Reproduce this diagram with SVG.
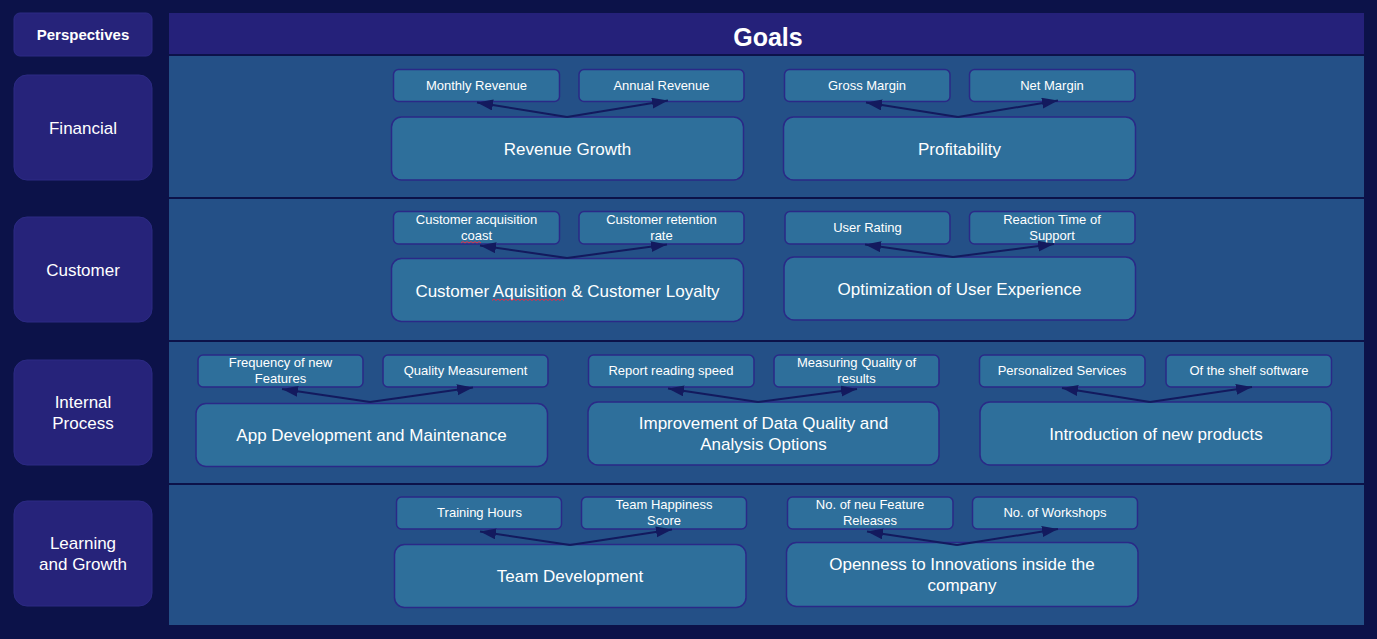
<svg xmlns="http://www.w3.org/2000/svg" width="1377" height="639" viewBox="0 0 1377 639">
  <defs>
    <marker id="head" markerUnits="userSpaceOnUse" markerWidth="18" markerHeight="12" refX="16" refY="5.5" orient="auto">
      <path d="M0,0 L16,5.5 L0,11 Z" fill="#131a5e"/>
    </marker>
    <style>
      .bg { fill: #0c1249; }
      .band { fill: #25217a; }
      .row { fill: #245087; }
      .persp { fill: #26237a; stroke: #2c2a84; stroke-width: 1; }
      .kpi { fill: #2e6f9b; stroke: #2a2987; stroke-width: 1.5; }
      .goal { fill: #2e6f9b; stroke: #2a2987; stroke-width: 1.5; }
      .link { fill: none; stroke: #131a5e; stroke-width: 2; marker-end: url(#head); }
      .spell { fill: none; stroke: #e0304a; stroke-width: 1; }
      text { font-family: "Liberation Sans", Arial, sans-serif; fill: #ffffff; text-anchor: middle; }
      .t-kpi { font-size: 13px; }
      .t-goal { font-size: 17px; }
      .t-persp { font-size: 17px; }
      .t-head { font-size: 15px; font-weight: bold; }
      .t-title { font-size: 25px; font-weight: bold; }
    </style>
  </defs>

  <!-- page background and table bands -->
  <rect class="bg" x="0" y="0" width="1377" height="639"/>
  <rect class="band" x="169" y="13" width="1195" height="41"/>
  <rect class="row" x="169" y="56" width="1195" height="141"/>
  <rect class="row" x="169" y="199" width="1195" height="141"/>
  <rect class="row" x="169" y="342" width="1195" height="141"/>
  <rect class="row" x="169" y="485" width="1195" height="140"/>
  <text class="t-title" x="768" y="46">Goals</text>

  <!-- perspective column -->
  <g id="perspectives">
    <rect class="persp" x="14" y="13" width="138" height="43" rx="6"/>
    <text class="t-head" x="83" y="40">Perspectives</text>
  </g>
  <g id="p-financial">
    <rect class="persp" x="14" y="75" width="138" height="105" rx="13"/>
    <text class="t-persp" x="83" y="134">Financial</text>
  </g>
  <g id="p-customer">
    <rect class="persp" x="14" y="217" width="138" height="105" rx="13"/>
    <text class="t-persp" x="83" y="276">Customer</text>
  </g>
  <g id="p-internal">
    <rect class="persp" x="14" y="360" width="138" height="105" rx="13"/>
    <text class="t-persp" x="83" y="408">Internal</text>
    <text class="t-persp" x="83" y="429">Process</text>
  </g>
  <g id="p-learning">
    <rect class="persp" x="14" y="501" width="138" height="105" rx="13"/>
    <text class="t-persp" x="83" y="549">Learning</text>
    <text class="t-persp" x="83" y="570">and Growth</text>
  </g>

  <!-- Financial -->
  <g id="monthly-revenue">
    <rect class="kpi" x="393.5" y="69.5" width="166" height="32" rx="5"/>
    <text class="t-kpi" x="476.5" y="90">Monthly Revenue</text>
  </g>
  <g id="annual-revenue">
    <rect class="kpi" x="579" y="69.5" width="165" height="32" rx="5"/>
    <text class="t-kpi" x="661.5" y="90">Annual Revenue</text>
  </g>
  <g id="revenue-growth">
    <rect class="goal" x="391.5" y="117" width="352" height="63" rx="10"/>
    <text class="t-goal" x="567.5" y="155">Revenue Growth</text>
  </g>
  <g id="gross-margin">
    <rect class="kpi" x="784.5" y="69.5" width="165.5" height="32" rx="5"/>
    <text class="t-kpi" x="867" y="90">Gross Margin</text>
  </g>
  <g id="net-margin">
    <rect class="kpi" x="969.5" y="69.5" width="165.5" height="32" rx="5"/>
    <text class="t-kpi" x="1052" y="90">Net Margin</text>
  </g>
  <g id="profitability">
    <rect class="goal" x="783.5" y="117" width="352" height="63" rx="10"/>
    <text class="t-goal" x="959.5" y="155">Profitability</text>
  </g>

  <!-- Customer -->
  <g id="acquisition-cost">
    <rect class="kpi" x="393.5" y="211.5" width="166" height="32.5" rx="5"/>
    <text class="t-kpi" x="476.5" y="224">Customer acquisition</text>
    <text class="t-kpi" x="476.5" y="240">coast</text>
    <path class="spell" d="M461,243 l2,-1.5 l2,1.5 l2,-1.5 l2,1.5 l2,-1.5 l2,1.5 l2,-1.5 l2,1.5 l2,-1.5 l2,1.5"/>
  </g>
  <g id="retention-rate">
    <rect class="kpi" x="579" y="211.5" width="165" height="32.5" rx="5"/>
    <text class="t-kpi" x="661.5" y="224">Customer retention</text>
    <text class="t-kpi" x="661.5" y="240">rate</text>
  </g>
  <g id="acquisition-loyalty">
    <rect class="goal" x="391.5" y="258.5" width="352" height="63" rx="10"/>
    <text class="t-goal" x="567.5" y="297">Customer Aquisition &amp; Customer Loyalty</text>
    <path class="spell" d="M492,300.5 l2,-1.5 l2,1.5 l2,-1.5 l2,1.5 l2,-1.5 l2,1.5 l2,-1.5 l2,1.5 l2,-1.5 l2,1.5 l2,-1.5 l2,1.5 l2,-1.5 l2,1.5 l2,-1.5 l2,1.5 l2,-1.5 l2,1.5 l2,-1.5 l2,1.5 l2,-1.5 l2,1.5 l2,-1.5 l2,1.5 l2,-1.5 l2,1.5 l2,-1.5 l2,1.5 l2,-1.5 l2,1.5 l2,-1.5 l2,1.5 l2,-1.5 l2,1.5 l2,-1.5 l2,1.5"/>
  </g>
  <g id="user-rating">
    <rect class="kpi" x="785" y="211.5" width="165" height="32.5" rx="5"/>
    <text class="t-kpi" x="867.5" y="232">User Rating</text>
  </g>
  <g id="reaction-time">
    <rect class="kpi" x="969.5" y="211.5" width="165.5" height="32.5" rx="5"/>
    <text class="t-kpi" x="1052" y="224">Reaction Time of</text>
    <text class="t-kpi" x="1052" y="240">Support</text>
  </g>
  <g id="user-experience">
    <rect class="goal" x="784" y="257" width="351.5" height="63" rx="10"/>
    <text class="t-goal" x="959.5" y="295">Optimization of User Experience</text>
  </g>

  <!-- Internal Process -->
  <g id="feature-frequency">
    <rect class="kpi" x="198" y="355" width="165" height="32" rx="5"/>
    <text class="t-kpi" x="280.5" y="367">Frequency of new</text>
    <text class="t-kpi" x="280.5" y="383">Features</text>
  </g>
  <g id="quality-measurement">
    <rect class="kpi" x="383" y="355" width="165" height="32" rx="5"/>
    <text class="t-kpi" x="465.5" y="375">Quality Measurement</text>
  </g>
  <g id="app-development">
    <rect class="goal" x="196" y="403.5" width="351.5" height="63" rx="10"/>
    <text class="t-goal" x="371.5" y="441">App Development and Maintenance</text>
  </g>
  <g id="report-speed">
    <rect class="kpi" x="588.5" y="355" width="165.5" height="32" rx="5"/>
    <text class="t-kpi" x="671" y="375">Report reading speed</text>
  </g>
  <g id="result-quality">
    <rect class="kpi" x="774" y="355" width="165" height="32" rx="5"/>
    <text class="t-kpi" x="856.5" y="367">Measuring Quality of</text>
    <text class="t-kpi" x="856.5" y="383">results</text>
  </g>
  <g id="data-quality">
    <rect class="goal" x="588" y="402" width="351" height="63" rx="10"/>
    <text class="t-goal" x="763.5" y="429">Improvement of Data Quality and</text>
    <text class="t-goal" x="763.5" y="450">Analysis Options</text>
  </g>
  <g id="personalized-services">
    <rect class="kpi" x="979.5" y="355" width="165.5" height="32" rx="5"/>
    <text class="t-kpi" x="1062" y="375">Personalized Services</text>
  </g>
  <g id="shelf-software">
    <rect class="kpi" x="1166" y="355" width="165.5" height="32" rx="5"/>
    <text class="t-kpi" x="1249" y="375">Of the shelf software</text>
  </g>
  <g id="new-products">
    <rect class="goal" x="980" y="402" width="351.5" height="63" rx="10"/>
    <text class="t-goal" x="1156" y="440">Introduction of new products</text>
  </g>

  <!-- Learning and Growth -->
  <g id="training-hours">
    <rect class="kpi" x="396.5" y="497" width="165" height="32" rx="5"/>
    <text class="t-kpi" x="479.5" y="517">Training Hours</text>
  </g>
  <g id="team-happiness">
    <rect class="kpi" x="581.5" y="497" width="165" height="32" rx="5"/>
    <text class="t-kpi" x="664" y="509">Team Happiness</text>
    <text class="t-kpi" x="664" y="525">Score</text>
  </g>
  <g id="team-development">
    <rect class="goal" x="394.5" y="544.5" width="351.5" height="63" rx="10"/>
    <text class="t-goal" x="570" y="582">Team Development</text>
  </g>
  <g id="feature-releases">
    <rect class="kpi" x="787.5" y="497" width="165.5" height="32" rx="5"/>
    <text class="t-kpi" x="870" y="509">No. of neu Feature</text>
    <text class="t-kpi" x="870" y="525">Releases</text>
  </g>
  <g id="workshops">
    <rect class="kpi" x="972.5" y="497" width="165" height="32" rx="5"/>
    <text class="t-kpi" x="1055" y="517">No. of Workshops</text>
  </g>
  <g id="innovation-openness">
    <rect class="goal" x="786.5" y="542.5" width="351.5" height="64" rx="10"/>
    <text class="t-goal" x="962" y="570">Openness to Innovations inside the</text>
    <text class="t-goal" x="962" y="591">company</text>
  </g>

  <!-- connectors: goal to its measures, drawn over the box borders -->
  <g id="connectors">
    <path class="link" d="M567,117 L477,102.5"/>
    <path class="link" d="M567,117 L668,100.5"/>
    <path class="link" d="M958,117 L866,102.5"/>
    <path class="link" d="M958,117 L1058,100.5"/>
    <path class="link" d="M567,258 L480,245.5"/>
    <path class="link" d="M567,258 L667,244.5"/>
    <path class="link" d="M953,257 L865,244.5"/>
    <path class="link" d="M953,257 L1054,244"/>
    <path class="link" d="M370,402 L282,389"/>
    <path class="link" d="M370,402 L473,387.5"/>
    <path class="link" d="M758,402 L668,388.5"/>
    <path class="link" d="M758,402 L857,389"/>
    <path class="link" d="M1150,402 L1062,388"/>
    <path class="link" d="M1150,402 L1252,387"/>
    <path class="link" d="M570,545 L480,531.5"/>
    <path class="link" d="M570,545 L672,529.5"/>
    <path class="link" d="M957,545 L867,531.5"/>
    <path class="link" d="M957,545 L1058,529"/>
  </g>
</svg>
